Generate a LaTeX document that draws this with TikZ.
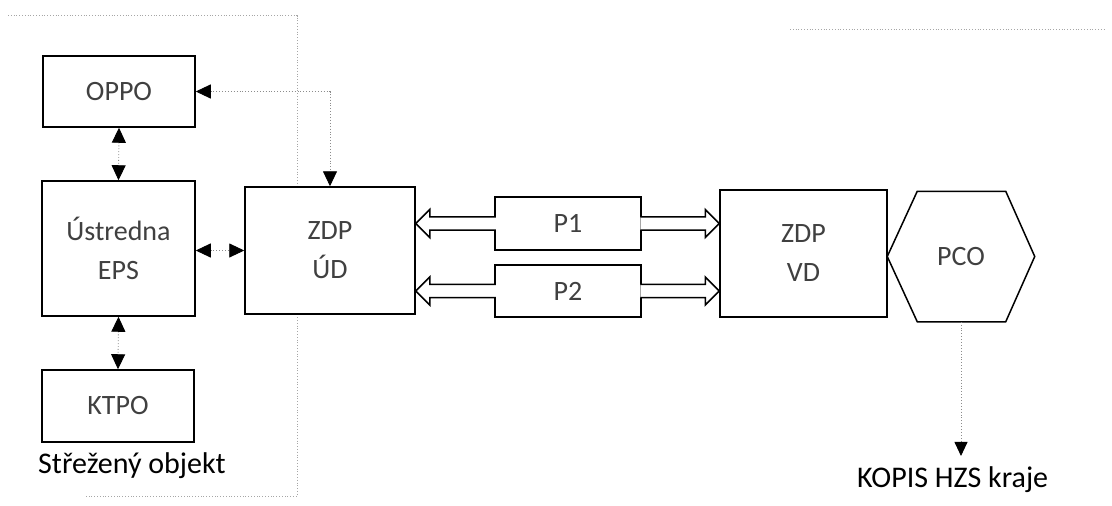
\documentclass[tikz,border=0pt]{standalone}
\usepackage{fontspec}
\setmainfont{Carlito}
\usetikzlibrary{arrows.meta,calc}
\newcommand\blkarr[2]{%
  \draw[line width=1.5pt, fill=white, line join=miter]
    let \p1=(#1), \p2=(#2), \n1={(\x2>\x1)?1:-1} in
    (\x1-\n1*1.5pt,\y1+6.7pt) -- (\x2-\n1*14pt,\y1+6.7pt) -- (\x2-\n1*14pt,\y1+14pt)
    -- (\x2,\y1) -- (\x2-\n1*14pt,\y1-14pt) -- (\x2-\n1*14pt,\y1-6.7pt) -- (\x1-\n1*1.5pt,\y1-6.7pt);%
}
\begin{document}
\begin{tikzpicture}[x=1pt,y=-1pt,
  blk/.style={draw=black, fill=white, line width=1.5pt, inner sep=0pt, align=center,
    font=\fontsize{28}{39}\selectfont, text=black!75},
  outlbl/.style={inner sep=0pt, font=\fontsize{30}{36}\selectfont, text=black},
  conn/.style={draw=black!45, dotted, line width=0.9pt,
    {Triangle[black,length=15pt,width=14pt]}-{Triangle[black,length=15pt,width=14pt]}},
  conn1/.style={draw=black!45, dotted, line width=0.9pt,
    -{Triangle[black,length=14pt,width=13pt]}},
  bound/.style={draw=black!35, dotted, line width=0.8pt}]
\useasboundingbox (0,0) rectangle (1112,506);
% region boundaries (faint)
\coordinate (b1) at (8,15.5);
\coordinate (b2) at (297,15.5);
\coordinate (b3) at (297,496);
\coordinate (b4) at (85,496);
\coordinate (b5) at (790,29.5);
\coordinate (b6) at (1106,29.5);
\draw[bound] (b1) -- (b2) -- (b3) -- (b4);
\draw[bound] (b5) -- (b6);
% nodes
\node[blk, minimum width=152, minimum height=71] (oppo) at (119,91.5) {OPPO};
\node[blk, minimum width=153, minimum height=135] (eps) at (118.5,248.5) {Ústredna\\EPS};
\node[blk, minimum width=152, minimum height=72] (ktpo) at (118,406) {KTPO};
\node[blk, minimum width=170, minimum height=127] (zdpud) at (330,250.5) {ZDP\\ÚD};
\node[blk, minimum width=146, minimum height=53] (p1) at (568,223.5) {P1};
\node[blk, minimum width=146, minimum height=52] (p2) at (568,291) {P2};
\node[blk, minimum width=167, minimum height=127] (zdpvd) at (803.5,253.5) {ZDP\\VD};
\node[blk, draw=none, fill=none, minimum width=146, minimum height=129] (pco) at (961,256.5) {PCO};
\draw[line width=1.5pt, line join=miter]
  ($(pco.north west)+(30,0)$) -- ($(pco.north east)+(-29,0)$) -- (pco.east)
  -- ($(pco.south east)+(-29,0)$) -- ($(pco.south west)+(30,0)$) -- (pco.west) -- cycle;
\node[outlbl, anchor=base west] (obj) at (38,473) {Střežený objekt};
\node[outlbl, anchor=base west] (kopis) at (857,487) {KOPIS HZS kraje};
% connectors
\draw[conn] (oppo.south) -- (eps.north);
\draw[conn] (eps.south) -- (ktpo.north);
\draw[conn] (eps.east |- zdpud.west) -- (zdpud.west);
\draw[conn] (oppo.east) -| (zdpud.north);
\draw[conn1, shorten >=10pt] (pco.south) -- (pco.south |- kopis.north);
% block arrows
\blkarr{p1.west}{zdpud.east |- p1.west}
\blkarr{p1.east}{zdpvd.west |- p1.east}
\blkarr{p2.west}{zdpud.east |- p2.west}
\blkarr{p2.east}{zdpvd.west |- p2.east}
\end{tikzpicture}
\end{document}
